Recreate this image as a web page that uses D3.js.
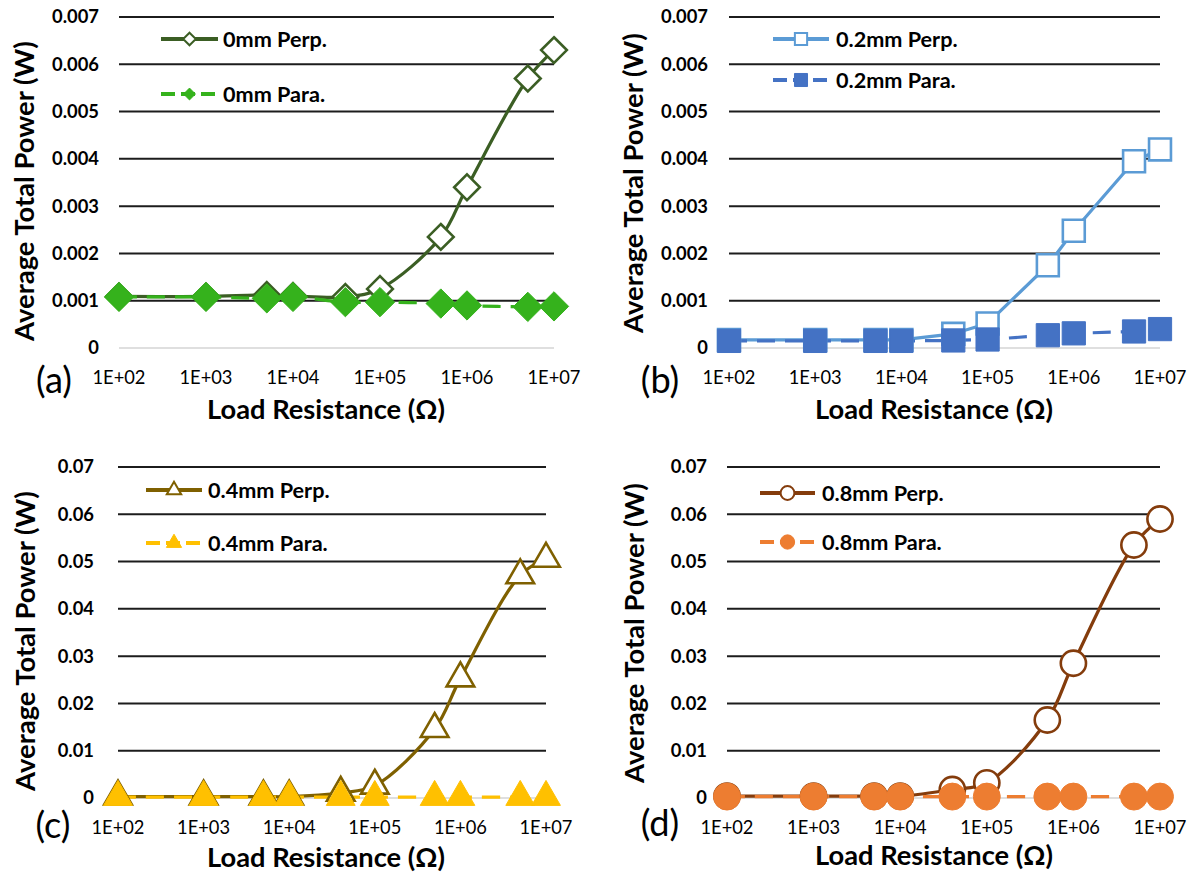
<!DOCTYPE html>
<html>
<head>
<meta charset="utf-8">
<script src="https://cdn.jsdelivr.net/npm/d3@7"></script>
<style>
  html, body { margin: 0; padding: 0; background: #fff; }
  svg { display: block; }
  text { font-family: Lato, "Open Sans", sans-serif; fill: #000; }
</style>
</head>
<body>
<svg id="chart" width="1192" height="875"></svg>
<script>
// Load resistance values (ohms) shared by every panel
const resistance = [1e2, 1e3, 5e3, 1e4, 4e4, 1e5, 5e5, 1e6, 5e6, 1e7];
const xTickValues = [1e2, 1e3, 1e4, 1e5, 1e6, 1e7];
const xTickLabels = ["1E+02", "1E+03", "1E+04", "1E+05", "1E+06", "1E+07"];

// Power axis ticks
const yTicksSmall = [0, 0.001, 0.002, 0.003, 0.004, 0.005, 0.006, 0.007];
const yTickLabelsSmall = ["0", "0.001", "0.002", "0.003", "0.004", "0.005", "0.006", "0.007"];
const yTicksLarge = [0, 0.01, 0.02, 0.03, 0.04, 0.05, 0.06, 0.07];
const yTickLabelsLarge = ["0", "0.01", "0.02", "0.03", "0.04", "0.05", "0.06", "0.07"];

// Average total power (W)
const perp0mm  = [0.00109, 0.00109, 0.00112, 0.00110, 0.00108, 0.00125, 0.00235, 0.00340, 0.00570, 0.00630];
const para0mm  = [0.00108, 0.00108, 0.00105, 0.00108, 0.00097, 0.00097, 0.00094, 0.00090, 0.00087, 0.00088];
const perp02mm = [0.00017, 0.00017, 0.00017, 0.00017, 0.00030, 0.00052, 0.00175, 0.00248, 0.00395, 0.00420];
const para02mm = [0.00015, 0.00015, 0.00015, 0.00015, 0.00016, 0.00018, 0.00027, 0.00031, 0.00035, 0.00040];
const perp04mm = [0.0003, 0.0003, 0.0003, 0.0003, 0.0011, 0.0026, 0.0146, 0.0253, 0.0471, 0.0506];
const para04mm = [0.0002, 0.0002, 0.0002, 0.0002, 0.0002, 0.0002, 0.0002, 0.0002, 0.0002, 0.0002];
const perp08mm = [0.0004, 0.0004, 0.0004, 0.0004, 0.0018, 0.0032, 0.0165, 0.0285, 0.0535, 0.0590];
const para08mm = [0.0003, 0.0003, 0.0003, 0.0003, 0.0003, 0.0003, 0.0003, 0.0003, 0.0003, 0.0003];

const svg = d3.select("#chart");

// Pick a font size so that a sample string spans the wanted width
function fitSize(sample, width, weight) {
  const t = svg.append("text").attr("font-size", 20).attr("font-weight", weight).text(sample);
  const w = t.node().getComputedTextLength();
  t.remove();
  return 20 * width / w;
}
const fsYTick  = fitSize("0.007", 47, 700);
const fsXTick  = fitSize("1E+02", 53, 400);
const fsYTitle = fitSize("Average Total Power (W)", 300, 700);
const fsXTitle = fitSize("Load Resistance (Ω)", 238, 700);
const fsLegend = fitSize("0mm Perp.", 104, 700);
const fsLetter = fitSize("(a)", 36, 400);

// Diamond drawn as a square turned 45 degrees
const symbolRhombus = {
  draw(ctx, size) {
    const r = Math.sqrt(size / 2);
    ctx.moveTo(0, -r); ctx.lineTo(r, 0); ctx.lineTo(0, r); ctx.lineTo(-r, 0); ctx.closePath();
  }
};

const panels = [
  {
    letter: "(a)", ox: 0, oy: 0, left: 119, right: 554, top: 17, bottom: 348,
    yTicks: yTicksSmall, yTickLabels: yTickLabelsSmall, yLabelRight: 99,
    yTitleX: 24, yTitleY: 191, letterX: 54, letterY: 380, xTickY: 378, xTitleX: 326, xTitleY: 409,
    curve: d3.curveCatmullRom.alpha(0.5),
    legendX0: 161, legendX1: 218, legendTextX: 223, legendY: [39, 94],
    series: [
      { name: "0mm Perp.", values: perp0mm, color: "#3b5e24", dashed: false, open: true,
        symbol: symbolRhombus, size: 330, legendSize: 80 },
      { name: "0mm Para.", values: para0mm, color: "#35b21c", dashed: true, open: false,
        symbol: symbolRhombus, size: 430, legendSize: 70 }
    ]
  },
  {
    letter: "(b)", ox: 596, oy: 0, left: 133, right: 564, top: 17, bottom: 348,
    yTicks: yTicksSmall, yTickLabels: yTickLabelsSmall, yLabelRight: 112,
    yTitleX: 37, yTitleY: 183, letterX: 64, letterY: 380, xTickY: 378, xTitleX: 338, xTitleY: 409,
    curve: d3.curveLinear,
    legendX0: 177, legendX1: 233, legendTextX: 240, legendY: [39, 80],
    series: [
      { name: "0.2mm Perp.", values: perp02mm, color: "#5b9bd5", dashed: false, open: true,
        symbol: d3.symbolSquare, size: 480, legendSize: 150 },
      { name: "0.2mm Para.", values: para02mm, color: "#4472c4", dashed: true, open: false,
        symbol: d3.symbolSquare, size: 540, legendSize: 170 }
    ]
  },
  {
    letter: "(c)", ox: 0, oy: 440, left: 118, right: 546, top: 27, bottom: 358,
    yTicks: yTicksLarge, yTickLabels: yTickLabelsLarge, yLabelRight: 94,
    yTitleX: 25, yTitleY: 201, letterX: 53, letterY: 385, xTickY: 388, xTitleX: 326, xTitleY: 417,
    curve: d3.curveCatmullRom.alpha(0.5),
    legendX0: 146, legendX1: 202, legendTextX: 208, legendY: [50, 103],
    series: [
      { name: "0.4mm Perp.", values: perp04mm, color: "#7f6000", dashed: false, open: true,
        symbol: d3.symbolTriangle, size: 330, legendSize: 90 },
      { name: "0.4mm Para.", values: para04mm, color: "#ffc000", dashed: true, open: false,
        symbol: d3.symbolTriangle, size: 360, legendSize: 100 }
    ]
  },
  {
    letter: "(d)", ox: 596, oy: 440, left: 131, right: 564, top: 27, bottom: 358,
    yTicks: yTicksLarge, yTickLabels: yTickLabelsLarge, yLabelRight: 111,
    yTitleX: 38, yTitleY: 193, letterX: 64, letterY: 383, xTickY: 388, xTitleX: 338, xTitleY: 415,
    curve: d3.curveCatmullRom.alpha(0.5),
    legendX0: 164, legendX1: 219, legendTextX: 226, legendY: [53, 102],
    series: [
      { name: "0.8mm Perp.", values: perp08mm, color: "#843c0c", dashed: false, open: true,
        symbol: d3.symbolCircle, size: 500, legendSize: 150 },
      { name: "0.8mm Para.", values: para08mm, color: "#ed7d31", dashed: true, open: false,
        symbol: d3.symbolCircle, size: 570, legendSize: 160 }
    ]
  }
];

panels.forEach(p => {
  const g = svg.append("g").attr("transform", `translate(${p.ox},${p.oy})`);
  const x = d3.scaleLog().domain([1e2, 1e7]).range([p.left, p.right]);
  const y = d3.scaleLinear().domain([0, p.yTicks[p.yTicks.length - 1]]).range([p.bottom, p.top]);

  // Horizontal gridlines (zero line is the light category axis)
  g.append("g").selectAll("line").data(p.yTicks.slice(1)).join("line")
    .attr("x1", p.left).attr("x2", p.right)
    .attr("y1", d => y(d)).attr("y2", d => y(d))
    .attr("stroke", "#1c1c1c").attr("stroke-width", 2);
  g.append("line")
    .attr("x1", p.left).attr("x2", p.right)
    .attr("y1", y(0)).attr("y2", y(0))
    .attr("stroke", "#d4d4d4").attr("stroke-width", 1.5);

  // Y tick labels
  g.append("g").selectAll("text").data(p.yTicks).join("text")
    .attr("x", p.yLabelRight).attr("y", d => y(d))
    .attr("dy", "0.35em").attr("text-anchor", "end")
    .attr("font-size", fsYTick).attr("font-weight", 700)
    .text((d, i) => p.yTickLabels[i]);

  // X tick labels
  g.append("g").selectAll("text").data(xTickValues).join("text")
    .attr("x", d => x(d)).attr("y", p.xTickY)
    .attr("dy", "0.35em").attr("text-anchor", "middle")
    .attr("font-size", fsXTick).attr("font-weight", 400)
    .text((d, i) => xTickLabels[i]);

  // Axis titles and panel letter
  g.append("text")
    .attr("transform", `translate(${p.yTitleX},${p.yTitleY}) rotate(-90)`)
    .attr("dy", "0.35em").attr("text-anchor", "middle")
    .attr("font-size", fsYTitle).attr("font-weight", 700)
    .text("Average Total Power (W)");
  g.append("text")
    .attr("x", p.xTitleX).attr("y", p.xTitleY)
    .attr("dy", "0.35em").attr("text-anchor", "middle")
    .attr("font-size", fsXTitle).attr("font-weight", 700)
    .text("Load Resistance (Ω)");
  g.append("text")
    .attr("x", p.letterX).attr("y", p.letterY)
    .attr("dy", "0.35em").attr("text-anchor", "middle")
    .attr("font-size", fsLetter).attr("font-weight", 400)
    .text(p.letter);

  // Series lines then markers
  p.series.forEach(s => {
    const pts = resistance.map((r, i) => [x(r), y(s.values[i])]);
    g.append("path")
      .attr("d", d3.line().curve(p.curve)(pts))
      .attr("fill", "none")
      .attr("stroke", s.color).attr("stroke-width", 3.2)
      .attr("stroke-dasharray", s.dashed ? "18,10" : null)
      .attr("stroke-linejoin", "round");
  });
  p.series.forEach(s => {
    const sym = d3.symbol().type(s.symbol).size(s.size);
    g.append("g").selectAll("path").data(resistance).join("path")
      .attr("transform", (r, i) => `translate(${x(r)},${y(s.values[i])})`)
      .attr("d", sym)
      .attr("fill", s.open ? "#fff" : s.color)
      .attr("stroke", s.color).attr("stroke-width", s.open ? 2.6 : 1);
  });

  // Legend
  p.series.forEach((s, i) => {
    const ly = p.legendY[i];
    g.append("line")
      .attr("x1", p.legendX0).attr("x2", p.legendX1)
      .attr("y1", ly).attr("y2", ly)
      .attr("stroke", s.color).attr("stroke-width", 4)
      .attr("stroke-dasharray", s.dashed ? "14,6" : null);
    g.append("path")
      .attr("transform", `translate(${(p.legendX0 + p.legendX1) / 2},${ly})`)
      .attr("d", d3.symbol().type(s.symbol).size(s.legendSize))
      .attr("fill", s.open ? "#fff" : s.color)
      .attr("stroke", s.color).attr("stroke-width", s.open ? 2 : 1);
    g.append("text")
      .attr("x", p.legendTextX).attr("y", ly)
      .attr("dy", "0.35em")
      .attr("font-size", fsLegend).attr("font-weight", 700)
      .text(s.name);
  });
});
</script>
</body>
</html>
